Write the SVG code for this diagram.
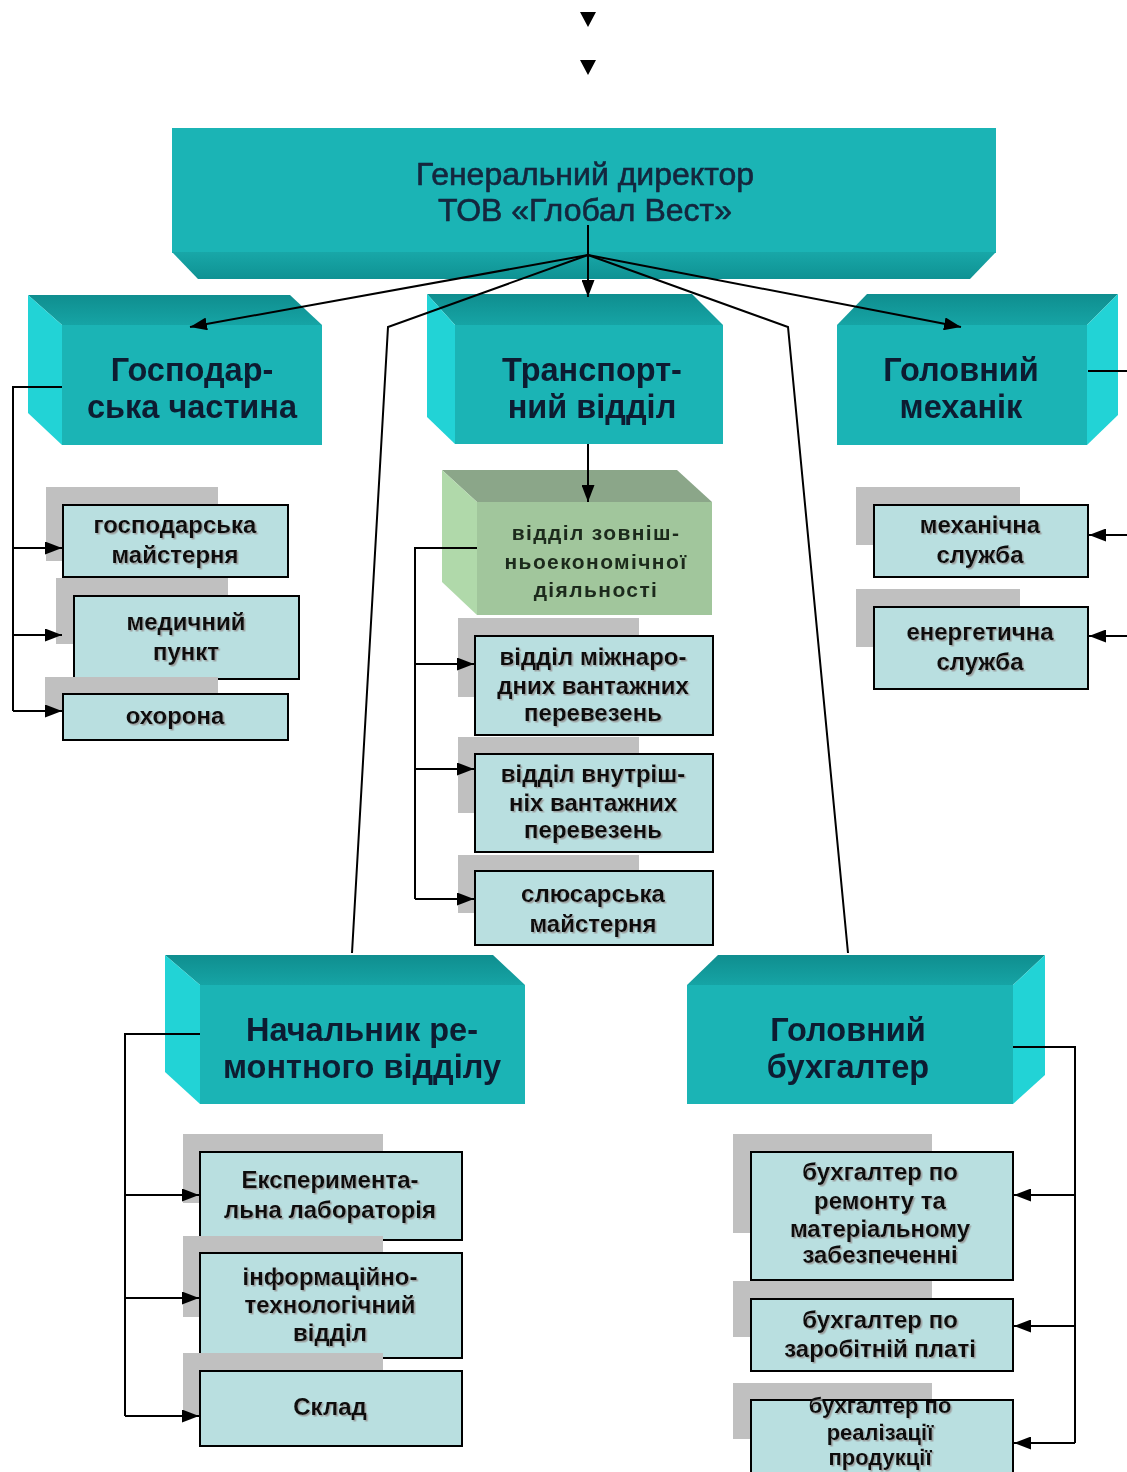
<svg xmlns="http://www.w3.org/2000/svg" width="1127" height="1472" viewBox="0 0 1127 1472">
<defs>
<marker id="arr" markerUnits="userSpaceOnUse" markerWidth="17" markerHeight="13" viewBox="0 0 17 13" refX="17" refY="6.5" orient="auto">
<path d="M0,0 L17,6.5 L0,13 z" fill="#000"/>
</marker>
<linearGradient id="topTeal" x1="0" y1="0" x2="0" y2="1">
<stop offset="0" stop-color="#0f8e8f"/><stop offset="1" stop-color="#16a4a5"/>
</linearGradient>
<linearGradient id="botTeal" x1="0" y1="0" x2="0" y2="1">
<stop offset="0" stop-color="#18a7a8"/><stop offset="1" stop-color="#0f9293"/>
</linearGradient>
<filter id="blur" x="-5%" y="-20%" width="110%" height="140%">
<feGaussianBlur stdDeviation="0.6"/>
</filter>
<filter id="tsh" x="-5%" y="-20%" width="115%" height="150%">
<feDropShadow dx="1.5" dy="1.5" stdDeviation="0.4" flood-color="#9a9a9a" flood-opacity="0.9"/>
</filter>
</defs>
<style>
.front{fill:#1bb4b5}
.top{fill:url(#topTeal)}
.side{fill:#22d3d6}
.gfront{fill:#a1c69c}
.gtop{fill:#8ba689}
.gside{fill:#b0d9aa}
.shadow{fill:#c0c0c0}
.box{fill:#b9dfe0;stroke:#000;stroke-width:2}
.big{font-family:"Liberation Sans",Arial,sans-serif;font-size:32.5px;font-weight:bold;fill:#0c1d30;text-anchor:middle;filter:url(#blur)}
.dir{font-family:"Liberation Sans",Arial,sans-serif;font-size:32px;fill:#13263d;stroke:#13263d;stroke-width:0.6;text-anchor:middle;filter:url(#blur)}
.small{font-family:"Liberation Sans",Arial,sans-serif;font-size:24px;font-weight:bold;fill:#111;text-anchor:middle;filter:url(#tsh)}
.small2{font-family:"Liberation Sans",Arial,sans-serif;font-size:22px;font-weight:bold;fill:#111;text-anchor:middle;filter:url(#tsh)}
.green{font-family:"Liberation Sans",Arial,sans-serif;font-size:21px;font-weight:bold;letter-spacing:1.4px;fill:#1b2a1b;text-anchor:middle;filter:url(#blur)}
.ln{fill:none;stroke:#000;stroke-width:2}
</style>

<g id="director">
<rect class="front" x="172" y="128" width="824" height="125"/>
<polygon fill="url(#botTeal)" points="172,252 996,252 970,279 198,279"/>
<text class="dir" x="585" y="185">Генеральний директор</text>
<text class="dir" x="585" y="221">ТОВ «Глобал Вест»</text>
</g>

<g id="gospodarska">
<polygon class="top" points="28,295 290,295 322,325 62,325"/>
<polygon class="side" points="28,295 62,325 62,445 28,413"/>
<rect class="front" x="62" y="325" width="260" height="120"/>
<text class="big" x="192" y="381">Господар-</text>
<text class="big" x="192" y="418">ська частина</text>
</g>

<g id="transport">
<polygon class="top" points="427,294 692,294 723,325 455,325"/>
<polygon class="side" points="427,294 455,325 455,444 427,417"/>
<rect class="front" x="455" y="325" width="268" height="119"/>
<text class="big" x="592" y="381">Транспорт-</text>
<text class="big" x="592" y="418">ний відділ</text>
</g>

<g id="mechanic">
<polygon class="top" points="837,325 867,294 1118,294 1087,325"/>
<polygon class="side" points="1087,325 1118,294 1118,415 1087,445"/>
<rect class="front" x="837" y="325" width="250" height="120"/>
<text class="big" x="961" y="381">Головний</text>
<text class="big" x="961" y="418">механік</text>
</g>

<g id="repair">
<polygon class="top" points="165,955 493,955 525,985 200,985"/>
<polygon class="side" points="165,955 200,985 200,1104 165,1072"/>
<rect class="front" x="200" y="985" width="325" height="119"/>
<text class="big" x="362" y="1041">Начальник ре-</text>
<text class="big" x="362" y="1078">монтного відділу</text>
</g>

<g id="accountant">
<polygon class="top" points="687,985 718,955 1045,955 1013,985"/>
<polygon class="side" points="1013,985 1045,955 1045,1075 1013,1104"/>
<rect class="front" x="687" y="985" width="326" height="119"/>
<text class="big" x="848" y="1041">Головний</text>
<text class="big" x="848" y="1078">бухгалтер</text>
</g>

<g id="foreign">
<polygon class="gtop" points="442,470 677,470 712,502 477,502"/>
<polygon class="gside" points="442,470 477,502 477,615 442,582"/>
<rect class="gfront" x="477" y="502" width="235" height="113"/>
<text class="green" x="596" y="540">відділ зовніш-</text>
<text class="green" x="596" y="569">ньоекономічної</text>
<text class="green" x="596" y="597">діяльності</text>
</g>

<g id="workshop">
<rect class="shadow" x="46" y="487" width="172" height="74"/>
<rect class="box" x="63" y="505" width="225" height="72"/>
<text class="small" x="175" y="533">господарська</text>
<text class="small" x="175" y="563">майстерня</text>
</g>

<g id="medical">
<rect class="shadow" x="56" y="578" width="172" height="66"/>
<rect class="box" x="74" y="596" width="225" height="83"/>
<text class="small" x="186" y="630">медичний</text>
<text class="small" x="186" y="660">пункт</text>
</g>

<g id="security">
<rect class="shadow" x="45" y="677" width="173" height="34"/>
<rect class="box" x="63" y="694" width="225" height="46"/>
<text class="small" x="175" y="724">охорона</text>
</g>

<g id="mech-service">
<rect class="shadow" x="856" y="487" width="164" height="58"/>
<rect class="box" x="874" y="505" width="214" height="72"/>
<text class="small" x="980" y="533">механічна</text>
<text class="small" x="980" y="563">служба</text>
</g>

<g id="energy-service">
<rect class="shadow" x="856" y="589" width="164" height="58"/>
<rect class="box" x="874" y="607" width="214" height="82"/>
<text class="small" x="980" y="640">енергетична</text>
<text class="small" x="980" y="670">служба</text>
</g>

<g id="intl">
<rect class="shadow" x="458" y="618" width="181" height="79"/>
<rect class="box" x="475" y="636" width="238" height="99"/>
<text class="small" x="593" y="665">відділ міжнаро-</text>
<text class="small" x="593" y="694">дних вантажних</text>
<text class="small" x="593" y="721">перевезень</text>
</g>

<g id="domestic">
<rect class="shadow" x="458" y="737" width="181" height="76"/>
<rect class="box" x="475" y="754" width="238" height="98"/>
<text class="small" x="593" y="782">відділ внутріш-</text>
<text class="small" x="593" y="811">ніх вантажних</text>
<text class="small" x="593" y="838">перевезень</text>
</g>

<g id="locksmith">
<rect class="shadow" x="458" y="855" width="181" height="58"/>
<rect class="box" x="475" y="871" width="238" height="74"/>
<text class="small" x="593" y="902">слюсарська</text>
<text class="small" x="593" y="932">майстерня</text>
</g>

<g id="lab">
<rect class="shadow" x="183" y="1134" width="200" height="69"/>
<rect class="box" x="200" y="1152" width="262" height="88"/>
<text class="small" x="330" y="1188">Експеримента-</text>
<text class="small" x="330" y="1218">льна лабораторія</text>
</g>

<g id="it">
<rect class="shadow" x="183" y="1236" width="200" height="81"/>
<rect class="box" x="200" y="1253" width="262" height="105"/>
<text class="small" x="330" y="1285">інформаційно-</text>
<text class="small" x="330" y="1313">технологічний</text>
<text class="small" x="330" y="1341">відділ</text>
</g>

<g id="warehouse">
<rect class="shadow" x="183" y="1353" width="200" height="62"/>
<rect class="box" x="200" y="1371" width="262" height="75"/>
<text class="small" x="330" y="1415">Склад</text>
</g>

<g id="acc-repair">
<rect class="shadow" x="733" y="1134" width="199" height="99"/>
<rect class="box" x="751" y="1152" width="262" height="128"/>
<text class="small" x="880" y="1180">бухгалтер по</text>
<text class="small" x="880" y="1209">ремонту та</text>
<text class="small" x="880" y="1237">матеріальному</text>
<text class="small" x="880" y="1263">забезпеченні</text>
</g>

<g id="acc-salary">
<rect class="shadow" x="733" y="1281" width="199" height="56"/>
<rect class="box" x="751" y="1299" width="262" height="72"/>
<text class="small" x="880" y="1328">бухгалтер по</text>
<text class="small" x="880" y="1357">заробітній платі</text>
</g>

<g id="acc-sales">
<rect class="shadow" x="733" y="1383" width="199" height="56"/>
<rect class="box" x="751" y="1400" width="262" height="90"/>
<text class="small2" x="880" y="1413">бухгалтер по</text>
<text class="small2" x="880" y="1440">реалізації</text>
<text class="small2" x="880" y="1465">продукції</text>
</g>

<g id="connectors">
<polygon points="580,12 596,12 588,27" fill="#000"/>
<polygon points="580,60 596,60 588,75" fill="#000"/>
<path class="ln" d="M588,225 V255"/>
<path class="ln" d="M588,255 V297" marker-end="url(#arr)"/>
<path class="ln" d="M588,255 L190,327" marker-end="url(#arr)"/>
<path class="ln" d="M588,255 L961,327" marker-end="url(#arr)"/>
<path class="ln" d="M588,255 L388,327 L352,953"/>
<path class="ln" d="M588,255 L788,327 L848,953"/>
<path class="ln" d="M62,387 H13 V711"/>
<path class="ln" d="M13,548 H62" marker-end="url(#arr)"/>
<path class="ln" d="M13,635 H62" marker-end="url(#arr)"/>
<path class="ln" d="M13,711 H62" marker-end="url(#arr)"/>
<path class="ln" d="M588,444 V502" marker-end="url(#arr)"/>
<path class="ln" d="M477,548 H415 V899"/>
<path class="ln" d="M415,664 H474" marker-end="url(#arr)"/>
<path class="ln" d="M415,769 H474" marker-end="url(#arr)"/>
<path class="ln" d="M415,899 H474" marker-end="url(#arr)"/>
<path class="ln" d="M1088,371 H1127"/>
<path class="ln" d="M1127,535 H1089" marker-end="url(#arr)"/>
<path class="ln" d="M1127,636 H1089" marker-end="url(#arr)"/>
<path class="ln" d="M200,1034 H125 V1416"/>
<path class="ln" d="M125,1195 H199" marker-end="url(#arr)"/>
<path class="ln" d="M125,1298 H199" marker-end="url(#arr)"/>
<path class="ln" d="M125,1416 H199" marker-end="url(#arr)"/>
<path class="ln" d="M1013,1047 H1075 V1443"/>
<path class="ln" d="M1075,1195 H1014" marker-end="url(#arr)"/>
<path class="ln" d="M1075,1326 H1014" marker-end="url(#arr)"/>
<path class="ln" d="M1075,1443 H1014" marker-end="url(#arr)"/>
</g>
</svg>
